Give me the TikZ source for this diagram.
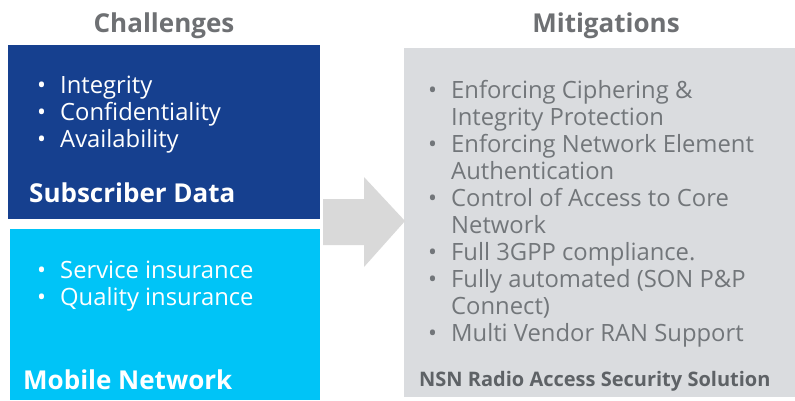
\documentclass[tikz,border=0pt]{standalone}
\usepackage{fontspec}
\setmainfont{Open Sans}
\definecolor{darkblue}{HTML}{16408F}
\definecolor{lightblue}{HTML}{00C4F7}
\definecolor{panelgray}{HTML}{DADCDF}
\definecolor{arrowgray}{HTML}{D9D9D9}
\definecolor{titlegray}{HTML}{6E7073}
\definecolor{textgray}{HTML}{72767A}
\definecolor{nsngray}{HTML}{5E6266}
\newcommand\bul{\makebox[23pt][l]{\textbullet}}
\newcommand\ind{\hspace*{23pt}}
\tikzset{
  title/.style={anchor=base, inner sep=0pt, text=titlegray, font=\bfseries\fontsize{26}{30}\selectfont},
  listw/.style={anchor=base west, inner sep=0pt, align=left, text=white, font=\fontsize{23.8}{27}\selectfont},
  listg/.style={anchor=base west, inner sep=0pt, align=left, text=textgray, font=\fontsize{23.8}{27}\selectfont},
  boxlabel/.style={anchor=base west, inner sep=0pt, text=white, font=\bfseries\fontsize{26}{30}\selectfont},
}
\begin{document}
\begin{tikzpicture}[x=1pt,y=-1pt]
\useasboundingbox (0,0) rectangle (795,400);
\fill[white] (0,0) rectangle (795,400);
% boxes
\fill[darkblue] (8,45) rectangle (320,219);
\fill[lightblue] (10,229) rectangle (320,400);
\fill[panelgray] (404,48) rectangle (795,397);
\fill[arrowgray] (323,199) -- (364,199) -- (364,177) -- (405,221) -- (364,267) -- (364,245) -- (323,245) -- cycle;
% titles
\node[title] (chal) at (164,32) {Challenges};
\node[title] (miti) at (606,32) {Mitigations};
% left lists (base anchor = last line)
\node[listw] (subl) at (37,147) {\bul Integrity\\\bul Confidentiality\\\bul Availability};
\node[boxlabel] (subd) at (29,202) {Subscriber Data};
\node[listw] (mobl) at (37,305) {\bul Service insurance\\\bul Quality insurance};
\node[boxlabel] (mobn) at (23,389) {Mobile Network};
% right list
\node[listg] (mitl) at (428,341) {\bul Enforcing Ciphering \&\\\ind Integrity Protection\\\bul Enforcing Network Element\\\ind Authentication\\\bul Control of Access to Core\\\ind Network\\\bul Full 3GPP compliance.\\\bul Fully automated (SON P\&P\\\ind Connect)\\\bul Multi Vendor RAN Support};
\node[anchor=base west, inner sep=0pt, text=nsngray, font=\bfseries\fontsize{20}{24}\selectfont] (nsn) at (419,386) {NSN Radio Access Security Solution};
\end{tikzpicture}
\end{document}
